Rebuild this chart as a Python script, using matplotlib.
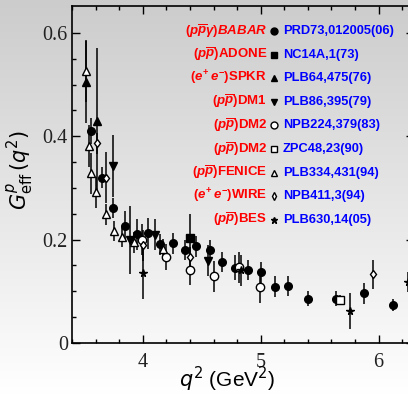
import numpy as np
import matplotlib
matplotlib.use("Agg")
import matplotlib.pyplot as plt
from matplotlib.lines import Line2D

# math fonts used by the legend texts (bold sans)
plt.rcParams['mathtext.fontset'] = 'custom'
plt.rcParams['mathtext.rm'] = 'Liberation Sans:bold'
plt.rcParams['mathtext.it'] = 'Liberation Sans:italic:bold'
plt.rcParams['mathtext.bf'] = 'Liberation Sans:bold'

# data: q2, G_eff, error
babar_q2 = [3.56, 3.655, 3.75, 3.85, 3.947, 4.048, 4.15, 4.257, 4.36, 4.455, 4.568,
            4.675, 4.786, 4.89, 5.006, 5.12, 5.23, 5.40, 5.636, 5.88, 6.12]
babar_g = [0.41, 0.32, 0.261, 0.226, 0.21, 0.212, 0.191, 0.193, 0.18, 0.187, 0.18,
           0.157, 0.146, 0.141, 0.137, 0.109, 0.11, 0.086, 0.086, 0.096, 0.073]
babar_err = [0.025, 0.02, 0.02, 0.03, 0.03, 0.03, 0.02, 0.02, 0.02, 0.02, 0.02,
             0.02, 0.025, 0.02, 0.02, 0.02, 0.02, 0.015, 0.015, 0.02, 0.012]

adone_q2 = [4.404]
adone_g = [0.204]
adone_err = [0.045]

spkr_q2 = [3.517, 3.61]
spkr_g = [0.505, 0.43]
spkr_err = [0.08, 0.14]

dm1_q2 = [3.75, 3.89, 4.105, 4.553]
dm1_g = [0.342, 0.199, 0.209, 0.159]
dm1_err = [0.06, 0.066, 0.03, 0.03]

dm2a_q2 = [3.997, 4.2, 4.4, 4.6, 4.82, 4.997]
dm2a_g = [0.2, 0.167, 0.142, 0.129, 0.147, 0.109]
dm2a_err = [0.03, 0.025, 0.03, 0.03, 0.03, 0.032]

dm2b_q2 = [5.67]
dm2b_g = [0.084]
dm2b_err = [0.008]

fenice_q2 = [3.517, 3.545, 3.565, 3.6, 3.686, 3.757, 3.825, 3.926, 4.17]
fenice_g = [0.526, 0.381, 0.328, 0.292, 0.249, 0.217, 0.205, 0.195, 0.181]
fenice_err = [0.06, 0.04, 0.04, 0.03, 0.02, 0.02, 0.02, 0.02, 0.02]

wire_q2 = [3.61, 3.686, 4.0, 4.404, 5.95]
wire_g = [0.386, 0.32, 0.189, 0.166, 0.133]
wire_err = [0.02, 0.05, 0.03, 0.02, 0.028]

bes_q2 = [4.0, 4.83, 5.76, 6.25]
bes_g = [0.136, 0.141, 0.062, 0.118]
bes_err = [0.05, 0.03, 0.035, 0.02]

labels_red = [r'$(p\overline{p}\gamma)\mathit{BABAR}$', r'$(p\overline{p})$ADONE',
              r'$(e^{+}\,e^{-})$SPKR', r'$(p\overline{p})$DM1', r'$(p\overline{p})$DM2',
              r'$(p\overline{p})$DM2', r'$(p\overline{p})$FENICE',
              r'$(e^{+}\,e^{-})$WIRE', r'$(p\overline{p})$BES']
labels_blue = ['PRD73,012005(06)', 'NC14A,1(73)', 'PLB64,475(76)', 'PLB86,395(79)',
               'NPB224,379(83)', 'ZPC48,23(90)', 'PLB334,431(94)', 'NPB411,3(94)',
               'PLB630,14(05)']

fig = plt.figure(figsize=(4.08, 3.95), dpi=100)

# gradient background
bg = fig.add_axes([0, 0, 1, 1], zorder=0)
grad = np.linspace(0.80, 1.0, 256).reshape(-1, 1)
bg.imshow(np.dstack([grad, grad, grad]), aspect='auto', extent=[0, 1, 0, 1])
bg.axis('off')

ax = fig.add_axes([72 / 408, 52 / 395, 342 / 408, 337 / 395], zorder=1)
ax.set_facecolor('none')

sets = [
    (babar_q2, babar_g, babar_err, 'o', 'black', 5.5),
    (adone_q2, adone_g, adone_err, 's', 'black', 5.5),
    (spkr_q2, spkr_g, spkr_err, '^', 'black', 5.5),
    (dm1_q2, dm1_g, dm1_err, 'v', 'black', 5.5),
    (dm2a_q2, dm2a_g, dm2a_err, 'o', 'white', 6),
    (dm2b_q2, dm2b_g, dm2b_err, 's', 'white', 5.5),
    (fenice_q2, fenice_g, fenice_err, '^', 'white', 6),
    (wire_q2, wire_g, wire_err, 'd', 'white', 4.5),
    (bes_q2, bes_g, bes_err, '*', 'black', 5.5),
]
for q, g, e, m, fc, ms in sets:
    ax.errorbar(q, g, yerr=e, fmt=m, color='black', mfc=fc, mec='black',
                ms=ms, mew=1.0, elinewidth=1.1, capsize=0)

ax.set_xlim(3.4, 6.3)
ax.set_ylim(0, 0.652)
ax.set_xticks([4, 5, 6])
ax.set_xticks(np.arange(3.4, 6.31, 0.2), minor=True)
ax.set_yticks([0, 0.2, 0.4, 0.6])
ax.set_yticklabels(['0', '0.2', '0.4', '0.6'])
ax.set_yticks(np.arange(0, 0.65, 0.05), minor=True)
ax.tick_params(which='both', direction='in', top=True, right=True, width=1.0,
               labelfontfamily='Liberation Serif', labelsize=14.5, labelcolor='#222222')
ax.tick_params(which='major', length=6)
ax.tick_params(which='minor', length=3)
ax.tick_params(axis='x', pad=7)
ax.tick_params(axis='y', pad=3)
for s in ax.spines.values():
    s.set_linewidth(1.2)

fig.text(227 / 408, 1 / 395, r'$q^2$ (GeV$^2$)', ha='center', va='bottom',
         fontsize=15, family='Liberation Sans', math_fontfamily='dejavusans')
fig.text(20 / 408, 1 - 170 / 395, r'$G^{p}_{\mathrm{eff}}\,(q^2)$', ha='center', va='center',
         rotation=90, fontsize=15, family='Liberation Sans', math_fontfamily='dejavusans')

# legend
markers = [('o', 'black'), ('s', 'black'), ('^', 'black'), ('v', 'black'),
           ('o', 'white'), ('s', 'white'), ('^', 'white'), ('d', 'white'), ('*', 'black')]
for i in range(len(labels_red)):
    y = 1 - (31 + 23.6 * i) / 395
    fig.text(267 / 408, y, labels_red[i], color='red', ha='right', va='center',
             fontsize=9.5, fontweight='bold', family='Liberation Sans', zorder=3)
    fig.text(283 / 408, y, labels_blue[i], color='blue', ha='left', va='center',
             fontsize=9.3, fontweight='bold', family='Liberation Sans', zorder=3)
    m, fc = markers[i]
    fig.add_artist(Line2D([274 / 408], [y], marker=m, color='black', mfc=fc,
                          mec='black', ms=5 if m != 'd' else 4, mew=1.0,
                          transform=fig.transFigure, zorder=3))

plt.savefig('out.png', dpi=100)
